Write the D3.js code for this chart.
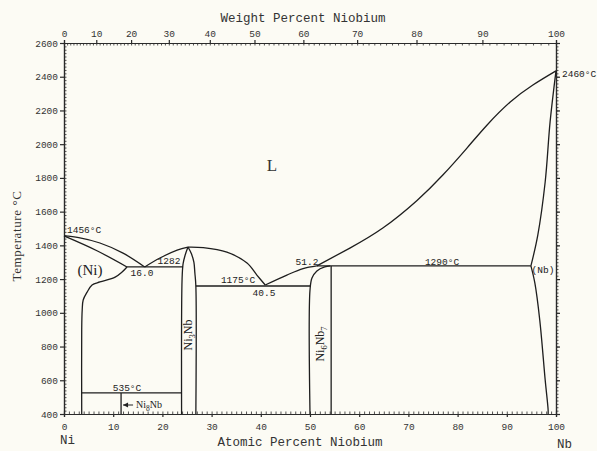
<!DOCTYPE html>
<html>
<head>
<meta charset="utf-8">
<script src="https://cdn.jsdelivr.net/npm/d3@7"></script>
<style>
  body { margin: 0; background: #fcfbf4; }
  svg { display: block; }
  .axis path, .axis line { stroke: #2a2a2a; stroke-width: 1.2; }
  .axis text { font-family: "Liberation Mono", monospace; font-size: 9.5px; fill: #333; }
  .minor line { stroke-width: 0.8; }
  .phase { fill: none; stroke: #1e1e1e; stroke-width: 1.3; }
  .lbl { font-family: "Liberation Mono", monospace; font-size: 10px; fill: #222; }
  .title { font-family: "Liberation Mono", monospace; font-size: 12.5px; fill: #333; }
</style>
</head>
<body>
<svg width="597" height="451"></svg>
<script>
var atomicTicks = [0, 10, 20, 30, 40, 50, 60, 70, 80, 90, 100];
var weightTicks = [0, 10, 20, 30, 40, 50, 60, 70, 80, 90, 100];
var tempTicks = [400, 600, 800, 1000, 1200, 1400, 1600, 1800, 2000, 2200, 2400, 2600];

// phase boundaries, [atomic % Nb, temperature °C]
var niLiquidus = [[0, 1456], [3, 1446], [7.3, 1414], [12, 1354], [16.4, 1272]];
var niSolidus = [[0, 1456], [6.7, 1368], [12.8, 1272]];
var niSolvus = [[12.8, 1272], [11.8, 1242], [10.4, 1212], [7.3, 1183], [5.7, 1165],
  [4.7, 1123], [3.9, 1076], [3.7, 1017], [3.6, 900], [3.6, 400]];
var eutecticNi = [[12.8, 1272], [24.2, 1272]];
var ni3NbLiqLeft = [[16.4, 1272], [19.5, 1325], [23, 1372], [25.2, 1390]];
var ni3NbLiqRight = [[25.2, 1390], [28.3, 1387], [33.1, 1360], [37.2, 1295], [39.2, 1224], [40.9, 1165]];
var ni3NbLeft = [[25.2, 1390], [24.6, 1340], [24.2, 1290], [24.0, 1200], [23.9, 400]];
var ni3NbRight = [[25.2, 1390], [25.9, 1350], [26.4, 1300], [26.6, 1236], [26.8, 1159], [26.8, 400]];
var eutecticMid = [[26.8, 1159], [50, 1159]];
var midLiquidus = [[40.9, 1165], [45.3, 1224], [48.6, 1262], [51.4, 1278]];
var nbLiquidus = [[51.4, 1278], [58.1, 1384], [64.8, 1503], [71.7, 1665], [77, 1817], [81.9, 1977],
  [86, 2114], [90.7, 2250], [95.3, 2351], [100, 2435]];
var peritectic = [[51.4, 1278], [94.9, 1278]];
var ni6Nb7Left = [[50, 400], [50, 1135], [50.4, 1206], [51.4, 1248], [53, 1272], [54.1, 1278]];
var ni6Nb7Right = [[54.3, 1278], [54.3, 400]];
var nbSolidus = [[100, 2435], [98.8, 2132], [97.8, 1776], [96.3, 1461], [94.9, 1278]];
var nbSolvus = [[94.9, 1278], [95.7, 1177], [96.7, 957], [97.8, 602], [98.4, 424], [98.4, 400]];
var line535 = [[3.6, 525], [23.9, 525]];
var ni8Nb = [[11.6, 525], [11.6, 400]];

var curved = [niLiquidus, niSolidus, niSolvus, ni3NbLiqLeft, ni3NbLiqRight, ni3NbLeft, ni3NbRight,
  midLiquidus, ni6Nb7Left, nbSolidus, nbSolvus];
var smooth = [nbLiquidus];
var straight = [eutecticNi, eutecticMid, peritectic, ni6Nb7Right, line535, ni8Nb];

var svg = d3.select("svg");

var x = d3.scaleLinear().domain([0, 100]).range([64, 556]);
var y = d3.scaleLinear().domain([400, 2600]).range([414, 43]);

// weight % -> atomic % (Ni 58.69, Nb 92.91)
function wtToAt(w) {
  var nb = w / 92.91, ni = (100 - w) / 58.69;
  return 100 * nb / (nb + ni);
}
var wKnots = d3.range(0, 101);
var xw = d3.scaleLinear().domain(wKnots).range(wKnots.map(function (w) { return x(wtToAt(w)); }));

// axes
svg.append("g").attr("class", "axis minor").attr("transform", "translate(0,414)")
  .call(d3.axisBottom(x).tickValues(d3.range(0, 101)).tickSize(-2.5).tickFormat(""));
svg.append("g").attr("class", "axis").attr("transform", "translate(0,414)")
  .call(d3.axisBottom(x).tickValues(atomicTicks).tickSize(3).tickPadding(6));

svg.append("g").attr("class", "axis minor").attr("transform", "translate(0,43)")
  .call(d3.axisTop(xw).tickValues(wKnots).tickSize(-2.5).tickFormat(""));
svg.append("g").attr("class", "axis").attr("transform", "translate(0,43)")
  .call(d3.axisTop(xw).tickValues(weightTicks).tickSize(3).tickPadding(3));

svg.append("g").attr("class", "axis minor").attr("transform", "translate(64,0)")
  .call(d3.axisLeft(y).tickValues(d3.range(400, 2601, 20)).tickSize(-2.5).tickFormat(""));
svg.append("g").attr("class", "axis").attr("transform", "translate(64,0)")
  .call(d3.axisLeft(y).tickValues(tempTicks).tickSize(4).tickPadding(2).tickFormat(d3.format("d")));

svg.append("g").attr("class", "axis minor").attr("transform", "translate(556,0)")
  .call(d3.axisRight(y).tickValues(d3.range(400, 2601, 20)).tickSize(2.5).tickFormat(""));
svg.append("g").attr("class", "axis").attr("transform", "translate(556,0)")
  .call(d3.axisRight(y).tickValues(tempTicks).tickSize(4).tickFormat(""));

// phase boundaries
var curve = d3.line().x(function (d) { return x(d[0]); }).y(function (d) { return y(d[1]); })
  .curve(d3.curveCatmullRom.alpha(0.5));
var nat = d3.line().x(function (d) { return x(d[0]); }).y(function (d) { return y(d[1]); })
  .curve(d3.curveNatural);
var seg = d3.line().x(function (d) { return x(d[0]); }).y(function (d) { return y(d[1]); });

svg.selectAll(".c").data(curved).enter().append("path").attr("class", "phase").attr("d", curve);
svg.selectAll(".m").data(smooth).enter().append("path").attr("class", "phase").attr("d", nat);
svg.selectAll(".s").data(straight).enter().append("path").attr("class", "phase").attr("d", seg);

// titles
svg.append("text").attr("class", "title").attr("x", 303).attr("y", 22)
  .attr("text-anchor", "middle").text("Weight Percent Niobium");
svg.append("text").attr("class", "title").attr("x", 300).attr("y", 446)
  .attr("text-anchor", "middle").text("Atomic Percent Niobium");
svg.append("text").attr("transform", "translate(21,236) rotate(-90)")
  .attr("text-anchor", "middle")
  .style("font-family", "Liberation Serif").style("font-size", "13px").style("letter-spacing", "0.6px")
  .style("fill", "#333").text("Temperature °C");
svg.append("text").attr("class", "title").attr("x", 60).attr("y", 444).text("Ni");
svg.append("text").attr("class", "title").attr("x", 557).attr("y", 448).text("Nb");

// annotations
function lbl(t, px, py, anchor, size) {
  return svg.append("text").attr("class", "lbl").attr("x", px).attr("y", py)
    .attr("text-anchor", anchor || "start").style("font-size", (size || 9.5) + "px").text(t);
}
lbl("1456°C", 67, 233);
lbl("16.0", 142, 276, "middle");
lbl("1282", 169, 264, "middle");
lbl("1175°C", 238, 283, "middle");
lbl("40.5", 264, 296, "middle");
lbl("51.2", 307, 265, "middle");
lbl("1290°C", 442, 265, "middle");
lbl("(Nb)", 543, 273, "middle");
lbl("2460°C", 562, 77);
lbl("535°C", 127, 391, "middle");

svg.append("text").attr("x", 90).attr("y", 275).attr("text-anchor", "middle")
  .style("font-family", "Liberation Serif").style("font-size", "15px").style("fill", "#222").text("(Ni)");
svg.append("text").attr("x", 272).attr("y", 171).attr("text-anchor", "middle")
  .style("font-family", "Liberation Serif").style("font-size", "17px").style("fill", "#333").text("L");

// arrow label for Ni8Nb
svg.append("line").attr("x1", x(11.6) + 2).attr("x2", x(11.6) + 12).attr("y1", 405).attr("y2", 405)
  .attr("stroke", "#222").attr("stroke-width", 1);
svg.append("path").attr("d", "M" + (x(11.6) + 2) + ",405 l5,-2.5 l0,5 z").attr("fill", "#222");
var n8 = svg.append("text").attr("x", x(11.6) + 15).attr("y", 408)
  .style("font-family", "Liberation Serif").style("font-size", "10px").style("fill", "#222");
n8.append("tspan").text("Ni");
n8.append("tspan").attr("dy", 2.5).style("font-size", "7.5px").text("8");
n8.append("tspan").attr("dy", -2.5).text("Nb");

// rotated compound labels
function compound(px, py, parts) {
  var t = svg.append("text").attr("transform", "translate(" + px + "," + py + ") rotate(-90)")
    .attr("text-anchor", "middle")
    .style("font-family", "Liberation Serif").style("font-size", "12px").style("fill", "#222");
  var shifted = false;
  parts.forEach(function (p) {
    var s = t.append("tspan").text(p[0]);
    if (p[1] && !shifted) { s.attr("dy", 3).style("font-size", "8.5px"); shifted = true; }
    else if (!p[1] && shifted) { s.attr("dy", -3); shifted = false; }
    else if (p[1]) s.style("font-size", "8.5px");
  });
}
compound(192, 335, [["Ni"], ["3", 1], ["Nb"]]);
compound(324, 344, [["Ni"], ["6", 1], ["Nb"], ["7", 1]]);
</script>
</body>
</html>
